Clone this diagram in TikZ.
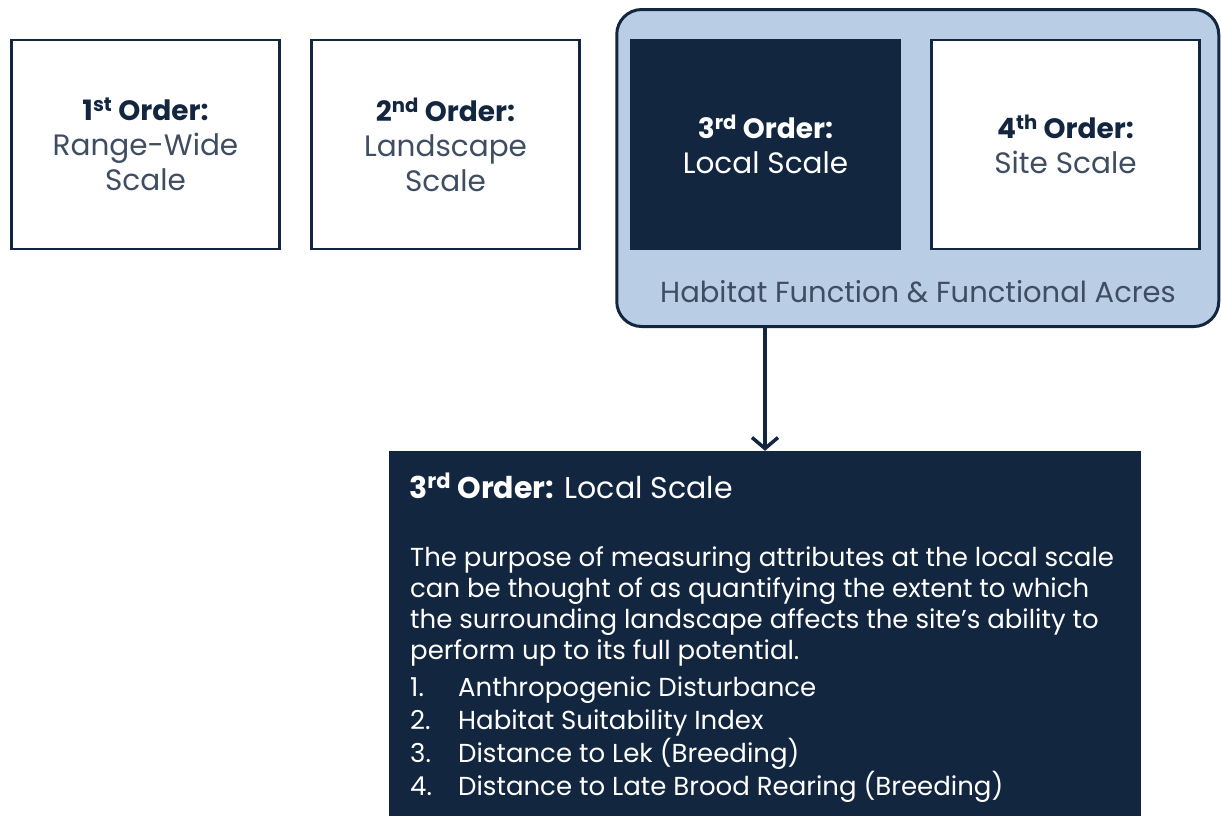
\documentclass[tikz,border=0pt]{standalone}
\usepackage{fontspec}
\setmainfont{Poppins}
\usetikzlibrary{arrows.meta}
\definecolor{navy}{HTML}{13263F}
\definecolor{pale}{HTML}{B9CDE4}
\definecolor{slate}{HTML}{3E4D62}
\newcommand{\fsz}[2]{\fontsize{#1}{#2}\selectfont}
\newcommand{\ordhead}[1]{{\fsz{28}{35}\bfseries #1}}
\begin{document}
\begin{tikzpicture}[x=1pt,y=-1pt,
  orderbox/.style={draw=navy, line width=2.5pt, fill=white, minimum width=268pt, minimum height=209pt, align=center, inner sep=0pt, text=slate, font=\fsz{29.5}{35}},
  darkbox/.style={fill=navy, minimum width=271pt, minimum height=211pt, align=center, inner sep=0pt, text=white, font=\fsz{29.5}{35}},
  dtext/.style={anchor=base west, inner sep=0pt, text=white, font=\fsz{26}{31}},
  arrowline/.style={draw=navy, line width=3.5pt, -{Straight Barb[length=11pt,width=26pt]}}
]
\useasboundingbox (0,0) rectangle (1221,815);
% group container
\node[draw=navy, line width=3pt, fill=pale, rounded corners=25pt, minimum width=602pt, minimum height=317pt, inner sep=0pt] (group) at (917.75,168) {};
\node[text=slate, font=\fsz{29}{30}, inner sep=0pt] (grouplabel) at (918,292) {Habitat Function \& Functional Acres};
% order boxes
\node[orderbox] (o1) at (145.5,144.5) {\textcolor{navy}{\ordhead{1\textsuperscript{st} Order:}}\\Range-Wide\\Scale};
\node[orderbox] (o2) at (445.5,144.5) {\textcolor{navy}{\ordhead{2\textsuperscript{nd} Order:}}\\Landscape\\Scale};
\node[darkbox] (o3) at (765.5,144.5) {\ordhead{3\textsuperscript{rd} Order:}\\Local Scale};
\node[orderbox] (o4) at (1065.5,144.5) {\textcolor{navy}{\ordhead{4\textsuperscript{th} Order:}}\\Site Scale};
% detail box
\node[fill=navy, minimum width=752pt, minimum height=366pt, inner sep=0pt] (detail) at (765,634) {};
\draw[arrowline] (group.south -| detail.north) -- (detail.north);
\node[dtext, font=\fsz{30}{34}] (dtitle) at (409,498) {\textbf{3\textsuperscript{rd} Order:} Local Scale};
\node[dtext] (p1) at (410,566) {The purpose of measuring attributes at the local scale};
\node[dtext] (p2) at (410,597) {can be thought of as quantifying the extent to which};
\node[dtext] (p3) at (410,628.5) {the surrounding landscape affects the site’s ability to};
\node[dtext] (p4) at (410,659.5) {perform up to its full potential.};
\node[dtext] (l1) at (410,696) {\makebox[48pt][l]{1.}Anthropogenic Disturbance};
\node[dtext] (l2) at (410,729) {\makebox[48pt][l]{2.}Habitat Suitability Index};
\node[dtext] (l3) at (410,762) {\makebox[48pt][l]{3.}Distance to Lek (Breeding)};
\node[dtext] (l4) at (410,795) {\makebox[48pt][l]{4.}Distance to Late Brood Rearing (Breeding)};
\end{tikzpicture}
\end{document}
